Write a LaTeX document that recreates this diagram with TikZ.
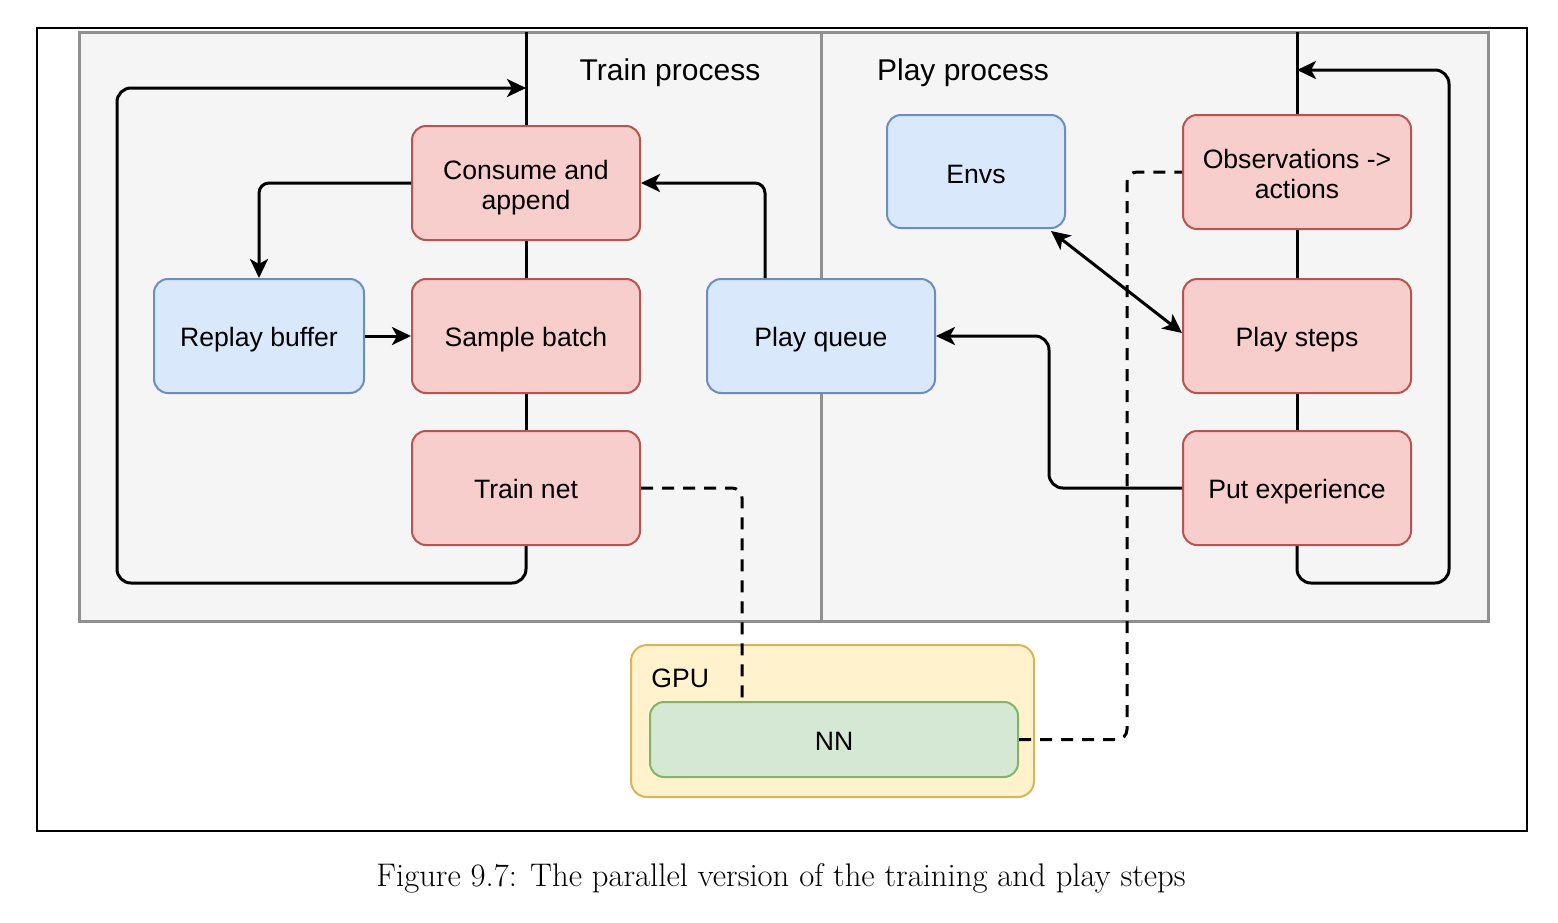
\documentclass[tikz,border=0pt]{standalone}
\usepackage{fontspec}
\newfontfamily\diagfont{Liberation Sans}
\usetikzlibrary{arrows.meta}
\definecolor{rfill}{HTML}{F8CECC}
\definecolor{rdraw}{HTML}{B85450}
\definecolor{bfill}{HTML}{DAE8FC}
\definecolor{bdraw}{HTML}{6C8EBF}
\definecolor{yfill}{HTML}{FFF2CC}
\definecolor{ydraw}{HTML}{D6B656}
\definecolor{gfill}{HTML}{D5E8D4}
\definecolor{gdraw}{HTML}{82B366}
\definecolor{pfill}{HTML}{F5F5F5}
\definecolor{pdraw}{HTML}{8F8F8F}
\tikzset{
  box/.style={rounded corners=7pt, line width=1pt, align=center, inner sep=0pt,
    font=\diagfont\fontsize{13.3}{15}\selectfont, minimum width=114pt, minimum height=57pt,
    text height=10.5pt, text depth=0pt},
  redbox/.style={box, fill=rfill, draw=rdraw},
  bluebox/.style={box, fill=bfill, draw=bdraw},
  txt/.style={align=center, inner sep=0pt, font=\diagfont\fontsize{13.3}{15}\selectfont},
  conn/.style={line width=1.5pt, black},
  arr/.style={conn, -{Stealth[length=9.5pt,width=9pt,inset=2.5pt]}},
  arrboth/.style={conn, {Stealth[length=9.5pt,width=9pt,inset=2.5pt]}-{Stealth[length=9.5pt,width=9pt,inset=2.5pt]}},
  dashconn/.style={line width=1.5pt, black, dash pattern=on 6pt off 4.5pt},
  hdr/.style={font=\diagfont\fontsize{15}{18}\selectfont},
}
\begin{document}
\begin{tikzpicture}[x=0.5pt,y=-0.5pt]
\useasboundingbox (0,0) rectangle (1558,922);
\fill[white] (0,0) rectangle (1558,922);
% outer frame
\draw[line width=1pt] (37,28) rectangle (1527,831);
% panel
\draw[fill=pfill, draw=pdraw, line width=1.5pt] (79,32) rectangle (1488,621);
\draw[draw=pdraw, line width=1.5pt] (821,32) -- (821,621);
\node[hdr, yshift=-1.5pt] (trainhdr) at (670,70) {Train process};
\node[hdr, yshift=-1.5pt] (playhdr) at (963,70) {Play process};

% nodes
\node[redbox] (consume) at (526,183) {};
\node[txt, yshift=-2.5pt] (consumetxt) at (consume.center) {Consume and\\append};
\node[redbox] (sample) at (526,336) {Sample batch};
\node[redbox] (train) at (526,488) {Train net};
\node[bluebox, minimum width=105pt] (replay) at (259,336) {Replay buffer};
\node[bluebox] (queue) at (821,336) {Play queue};
\node[bluebox, minimum width=89pt, minimum height=56.5pt, text height=11.5pt] (envs) at (976,171.5) {Envs};
\node[redbox] (obs) at (1297,172) {};
\node[txt, yshift=-1pt] (obstxt) at (obs.center) {Observations -\textgreater\\actions};
\node[redbox] (steps) at (1297,336) {Play steps};
\node[redbox] (put) at (1297,488) {Put experience};

\coordinate (ttop) at (526,32);
\coordinate (ptop) at (1297,32);
\coordinate (tloop) at (526,88);
\coordinate (ploop) at (1297,70);

% train process backbone
\draw[conn] (ttop) -- (consume.north);
\draw[conn] (consume.south) -- (sample.north);
\draw[conn] (sample.south) -- (train.north);
\draw[arr, rounded corners=7pt] (train.south) -- (526,583) -- (117,583) -- (117,88) -- (tloop);

% play process backbone
\draw[conn] (ptop) -- (obs.north);
\draw[conn] (obs.south) -- (steps.north);
\draw[conn] (steps.south) -- (put.north);
\draw[arr, rounded corners=7pt] (put.south) -- (1297,583) -- (1449,583) -- (1449,70) -- (ploop);

% GPU
\node[draw=ydraw, fill=yfill, line width=1pt, rounded corners=8pt, minimum width=201.5pt, minimum height=76pt, inner sep=0pt] (gpu) at (832.5,721) {};
\node[txt, anchor=west] (gpulbl) at (651,678) {GPU};
\node[draw=gdraw, fill=gfill, line width=1pt, rounded corners=7pt, minimum width=184pt, minimum height=37.5pt, inner sep=0pt, font=\diagfont\fontsize{13.3}{15}\selectfont, text height=11pt, text depth=0pt] (nn) at (834,739.5) {NN};

% dashed connector to observations (under the solid lines)
\draw[dashconn, rounded corners=5pt] (nn.east) -- ++(108,0) |- (obs.west);

% connectors
\draw[arr, rounded corners=5pt] (consume.west) -| (replay.north);
\draw[arr] (replay.east) -- (sample.west);
\draw[arr, rounded corners=5pt] ([xshift=-28pt]queue.north) |- (consume.east);
\draw[arr, rounded corners=7pt] (put.west) -- ++(-133,0) |- (queue.east);
\draw[arrboth] ([xshift=-7.5pt,yshift=-1pt]envs.south east) -- ([yshift=1.5pt]steps.west);

\draw[dashconn, rounded corners=5pt] (train.east) -| ([xshift=-46pt]nn.north);

% caption
\node[font=\fontsize{16.35}{19}\selectfont, yshift=-1pt] (caption) at (781,876) {Figure 9.7: The parallel version of the training and play steps};
\end{tikzpicture}
\end{document}
